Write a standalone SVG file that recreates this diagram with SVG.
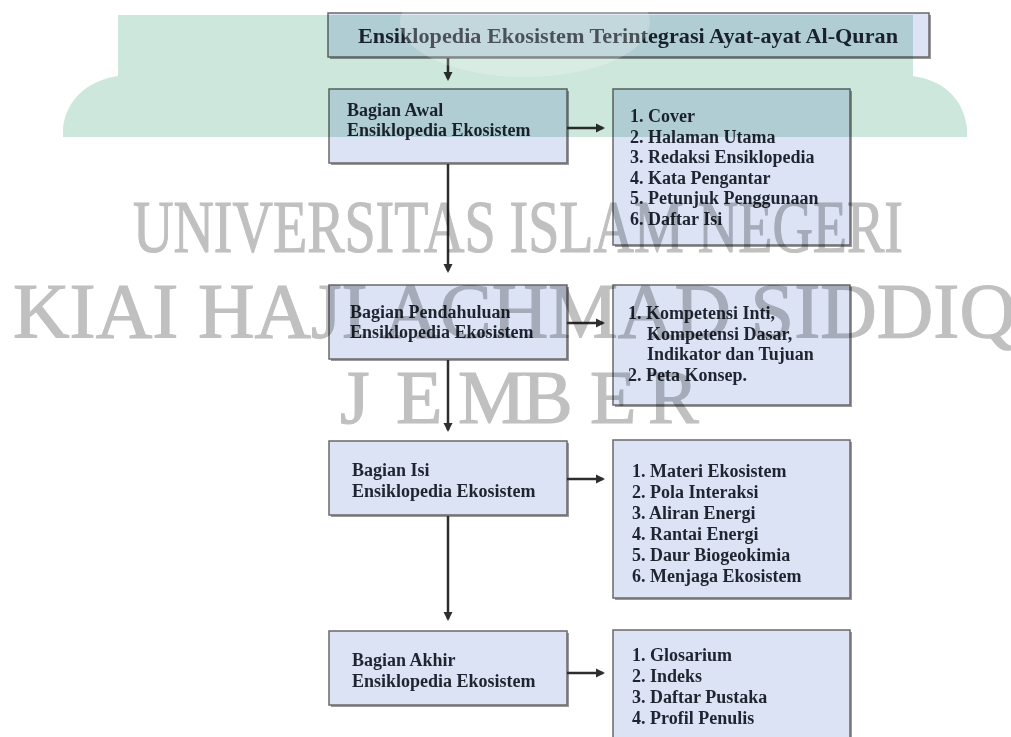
<svg xmlns="http://www.w3.org/2000/svg" width="1011" height="737" viewBox="0 0 1011 737">
<style>
.box{fill:#dbe3f5;stroke:#6a6a6a;stroke-width:1.5}
.sh{fill:#9a9a9a}
.t{font-family:"Liberation Serif","Times New Roman",serif;font-weight:bold;font-size:18px;fill:#1e2430}
.title{font-size:21px}
.con{stroke:#2e2e2e;stroke-width:2.5;fill:none}
.wm{font-family:"Liberation Serif","Times New Roman",serif;fill:#c0c0c0;stroke:#c0c0c0;stroke-width:1.2;mix-blend-mode:multiply}
</style>
<defs>
<marker id="ah" markerWidth="11" markerHeight="11" refX="7" refY="5.5" orient="auto" markerUnits="userSpaceOnUse">
<path d="M0,1 L9,5.5 L0,10 Z" fill="#2e2e2e"/>
</marker>
</defs>
<rect width="1011" height="737" fill="#ffffff"/>

<g id="title">
<rect class="sh" x="330" y="15" width="601" height="44"/>
<rect class="box" x="328" y="13" width="601" height="44"/>
<text class="t title" x="358" y="43" textLength="540" lengthAdjust="spacingAndGlyphs">Ensiklopedia Ekosistem Terintegrasi Ayat-ayat Al-Quran</text>
</g>

<g id="awal">
<rect class="sh" x="331" y="91" width="238" height="74"/>
<rect class="box" x="329" y="89" width="238" height="74"/>
<text class="t" x="347" y="116">Bagian Awal</text>
<text class="t" x="347" y="136">Ensiklopedia Ekosistem</text>
</g>
<g id="awal-list">
<rect class="sh" x="615" y="91" width="237" height="156"/>
<rect class="box" x="613" y="89" width="237" height="156"/>
<text class="t" x="630" y="122">1. Cover</text>
<text class="t" x="630" y="142.5">2. Halaman Utama</text>
<text class="t" x="630" y="163">3. Redaksi Ensiklopedia</text>
<text class="t" x="630" y="183.5">4. Kata Pengantar</text>
<text class="t" x="630" y="204">5. Petunjuk Penggunaan</text>
<text class="t" x="630" y="224.5">6. Daftar Isi</text>
</g>

<g id="pendahuluan">
<rect class="sh" x="331" y="287" width="238" height="74"/>
<rect class="box" x="329" y="285" width="238" height="74"/>
<text class="t" x="350" y="318">Bagian Pendahuluan</text>
<text class="t" x="350" y="338">Ensiklopedia Ekosistem</text>
</g>
<g id="pendahuluan-list">
<rect class="sh" x="615" y="287" width="237" height="120"/>
<rect class="box" x="613" y="285" width="237" height="120"/>
<text class="t" x="628" y="319">1. Kompetensi Inti,</text>
<text class="t" x="647" y="340">Kompetensi Dasar,</text>
<text class="t" x="647" y="360">Indikator dan Tujuan</text>
<text class="t" x="628" y="381">2. Peta Konsep.</text>
</g>

<g id="isi">
<rect class="sh" x="331" y="443" width="238" height="74"/>
<rect class="box" x="329" y="441" width="238" height="74"/>
<text class="t" x="352" y="476">Bagian Isi</text>
<text class="t" x="352" y="497">Ensiklopedia Ekosistem</text>
</g>
<g id="isi-list">
<rect class="sh" x="615" y="442" width="237" height="158"/>
<rect class="box" x="613" y="440" width="237" height="158"/>
<text class="t" x="632" y="477">1. Materi Ekosistem</text>
<text class="t" x="632" y="498">2. Pola Interaksi</text>
<text class="t" x="632" y="519">3. Aliran Energi</text>
<text class="t" x="632" y="540">4. Rantai Energi</text>
<text class="t" x="632" y="561">5. Daur Biogeokimia</text>
<text class="t" x="632" y="582">6. Menjaga Ekosistem</text>
</g>

<g id="akhir">
<rect class="sh" x="331" y="633" width="238" height="74"/>
<rect class="box" x="329" y="631" width="238" height="74"/>
<text class="t" x="352" y="666">Bagian Akhir</text>
<text class="t" x="352" y="687">Ensiklopedia Ekosistem</text>
</g>
<g id="akhir-list">
<rect class="sh" x="615" y="632" width="237" height="120"/>
<rect class="box" x="613" y="630" width="237" height="120"/>
<text class="t" x="632" y="661">1. Glosarium</text>
<text class="t" x="632" y="682">2. Indeks</text>
<text class="t" x="632" y="703">3. Daftar Pustaka</text>
<text class="t" x="632" y="724">4. Profil Penulis</text>
</g>

<g id="connectors">
<line class="con" x1="448" y1="58" x2="448" y2="79" marker-end="url(#ah)"/>
<line class="con" x1="448" y1="164" x2="448" y2="271" marker-end="url(#ah)"/>
<line class="con" x1="448" y1="360" x2="448" y2="430" marker-end="url(#ah)"/>
<line class="con" x1="448" y1="516" x2="448" y2="619" marker-end="url(#ah)"/>
<line class="con" x1="567" y1="128" x2="603" y2="128" marker-end="url(#ah)"/>
<line class="con" x1="567" y1="323" x2="603" y2="323" marker-end="url(#ah)"/>
<line class="con" x1="567" y1="479" x2="603" y2="479" marker-end="url(#ah)"/>
<line class="con" x1="567" y1="673" x2="603" y2="673" marker-end="url(#ah)"/>
</g>

<g id="watermark">
<path d="M118,15 L913,15 L913,76 C944,80 964,100 967,128 L967,137 L63,137 L63,128 C66,100 88,80 118,76 Z" fill="#cee7dd" style="mix-blend-mode:multiply"/>
<ellipse cx="525" cy="22" rx="125" ry="55" fill="#ffffff" opacity="0.22"/>
<text class="wm" x="133" y="252" font-size="74" textLength="770" lengthAdjust="spacingAndGlyphs">UNIVERSITAS ISLAM NEGERI</text>
<text class="wm" x="13" y="337" font-size="78" textLength="1003" lengthAdjust="spacingAndGlyphs">KIAI HAJI ACHMAD SIDDIQ</text>
<text class="wm" x="340 396 458 522 590 648" y="423" font-size="76">JEMBER</text>
</g>
</svg>
